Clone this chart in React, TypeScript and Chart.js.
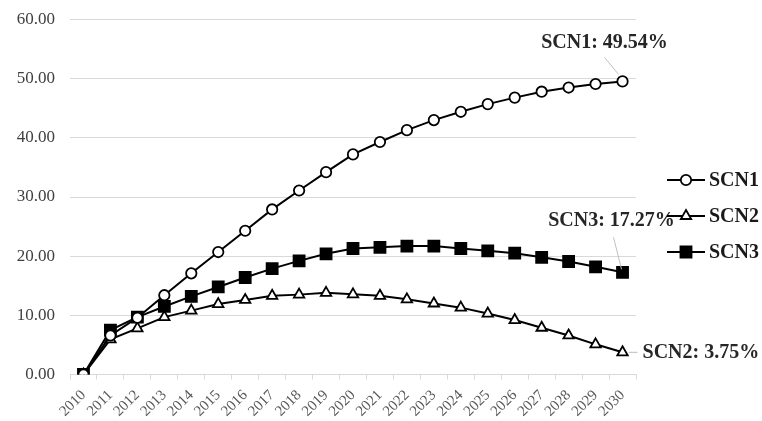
import React, { useEffect, useRef } from "react";
import { Chart, registerables } from "chart.js";
Chart.register(...registerables);

const years = ["2010","2011","2012","2013","2014","2015","2016","2017","2018","2019","2020","2021","2022","2023","2024","2025","2026","2027","2028","2029","2030"];
const scn1 = [0, 6.6, 9.6, 13.4, 17.1, 20.7, 24.3, 27.9, 31.1, 34.2, 37.2, 39.3, 41.3, 43.0, 44.4, 45.7, 46.8, 47.8, 48.5, 49.1, 49.54];
const scn2 = [0, 5.95, 7.8, 9.7, 10.8, 11.9, 12.6, 13.3, 13.5, 13.8, 13.55, 13.3, 12.7, 12.0, 11.3, 10.3, 9.2, 7.9, 6.6, 5.1, 3.75];
const scn3 = [0, 7.5, 9.7, 11.5, 13.2, 14.8, 16.4, 17.9, 19.2, 20.4, 21.3, 21.5, 21.7, 21.7, 21.3, 20.9, 20.5, 19.8, 19.1, 18.2, 17.27];
const seriesNames = ["SCN1", "SCN2", "SCN3"];
const yMin = 0;
const yMax = 60;
const yStep = 10;

const SERIF = '"Liberation Serif", "Times New Roman", serif';

function drawMarker(ctx: CanvasRenderingContext2D, style: string, x: number, y: number, r: number, fill: string) {
  ctx.save();
  ctx.beginPath();
  if (style === "circle") {
    ctx.arc(x, y, r, 0, Math.PI * 2);
  } else if (style === "triangle") {
    for (let i = 0; i < 3; i++) {
      const a = (i * 2 * Math.PI) / 3;
      const px = x + Math.sin(a) * r;
      const py = y - Math.cos(a) * r;
      if (i === 0) ctx.moveTo(px, py); else ctx.lineTo(px, py);
    }
    ctx.closePath();
  } else {
    const s = Math.SQRT1_2 * r;
    ctx.rect(x - s, y - s, 2 * s, 2 * s);
  }
  ctx.fillStyle = fill;
  ctx.fill();
  ctx.lineWidth = 1.8;
  ctx.strokeStyle = "#000";
  ctx.stroke();
  ctx.restore();
}

const legendPlugin = {
  id: "customLegend",
  afterDraw(chart: any) {
    const ctx = chart.ctx as CanvasRenderingContext2D;
    const ys = [180, 216, 252];
    chart.data.datasets.forEach((ds: any, i: number) => {
      const y = ys[i];
      ctx.save();
      ctx.beginPath();
      ctx.moveTo(667, y);
      ctx.lineTo(705, y);
      ctx.lineWidth = 2;
      ctx.strokeStyle = "#000";
      ctx.stroke();
      ctx.restore();
      drawMarker(ctx, ds.pointStyle, 686, y, ds.pointRadius, ds.pointBackgroundColor);
      ctx.save();
      ctx.font = `bold 20px ${SERIF}`;
      ctx.fillStyle = "#1a1a1a";
      ctx.textAlign = "left";
      ctx.textBaseline = "middle";
      ctx.fillText(ds.label, 709, y + 1);
      ctx.restore();
    });
  },
};

const annotations = [
  { ds: 0, tx: -18, ty: -39, align: "center", l: [-18, -24, -4, -7] },
  { ds: 2, tx: -11, ty: -51, align: "center", l: [-9, -35, -1, -3] },
  { ds: 1, tx: 20, ty: 1, align: "left", l: [6, 0, 15, 0] },
];

const annotationPlugin = {
  id: "endLabels",
  afterDatasetsDraw(chart: any) {
    const ctx = chart.ctx as CanvasRenderingContext2D;
    annotations.forEach((a) => {
      const meta = chart.getDatasetMeta(a.ds);
      const pt = meta.data[meta.data.length - 1];
      const ds = chart.data.datasets[a.ds];
      const v = ds.data[ds.data.length - 1] as number;
      ctx.save();
      ctx.beginPath();
      ctx.moveTo(pt.x + a.l[0], pt.y + a.l[1]);
      ctx.lineTo(pt.x + a.l[2], pt.y + a.l[3]);
      ctx.lineWidth = 1;
      ctx.strokeStyle = "#bfbfbf";
      ctx.stroke();
      ctx.font = `bold 20px ${SERIF}`;
      ctx.fillStyle = "#262626";
      ctx.textAlign = a.align as CanvasTextAlign;
      ctx.textBaseline = "middle";
      ctx.fillText(`${ds.label}: ${v.toFixed(2)}%`, pt.x + a.tx, pt.y + a.ty);
      ctx.restore();
    });
  },
};

export default function App() {
  const ref = useRef<HTMLCanvasElement | null>(null);
  useEffect(() => {
    if (!ref.current) return;
    const mk = (label: string, data: number[], style: string, r: number, fill: string) => ({
      label,
      data,
      borderColor: "#000",
      borderWidth: 2,
      pointStyle: style,
      pointRadius: r,
      pointHoverRadius: r,
      pointBackgroundColor: fill,
      pointBorderColor: "#000",
      pointBorderWidth: 1.8,
      tension: 0,
      fill: false,
    });
    const chart = new Chart(ref.current, {
      type: "line",
      data: {
        labels: years,
        datasets: [
          mk(seriesNames[0], scn1, "circle", 5.2, "#fff"),
          mk(seriesNames[1], scn2, "triangle", 6, "#fff"),
          mk(seriesNames[2], scn3, "rect", 7.8, "#000"),
        ],
      },
      options: {
        animation: false,
        responsive: true,
        maintainAspectRatio: false,
        layout: { padding: { top: 19.5, right: 126, left: 0, bottom: 0 } },
        plugins: { legend: { display: false }, tooltip: { enabled: false } },
        scales: {
          x: {
            offset: true,
            grid: { display: true, drawOnChartArea: false, drawTicks: true, tickLength: 5, offset: true, color: "#d9d9d9" },
            border: { display: true, color: "#d9d9d9" },
            ticks: {
              autoSkip: false,
              maxRotation: 45,
              minRotation: 45,
              padding: 7,
              color: "#595959",
              font: { family: SERIF, size: 15 },
            },
            afterFit: (s: any) => { s.height = 46.5; s.paddingLeft = 0; s.paddingRight = 0; },
          },
          y: {
            min: yMin,
            max: yMax,
            grid: { color: "#d9d9d9", drawTicks: false, lineWidth: 1 },
            border: { display: false },
            ticks: {
              stepSize: yStep,
              padding: 15,
              color: "#404040",
              font: { family: SERIF, size: 17 },
              callback: (v: any) => Number(v).toFixed(2),
            },
            afterFit: (s: any) => { s.width = 70; s.paddingTop = 0; s.paddingBottom = 0; },
          },
        },
      },
      plugins: [annotationPlugin, legendPlugin],
    } as any);
    return () => chart.destroy();
  }, []);
  return (
    <div style={{ position: "fixed", left: 0, top: 0, width: 762, height: 421, background: "#fff" }}>
      <canvas ref={ref} />
    </div>
  );
}
